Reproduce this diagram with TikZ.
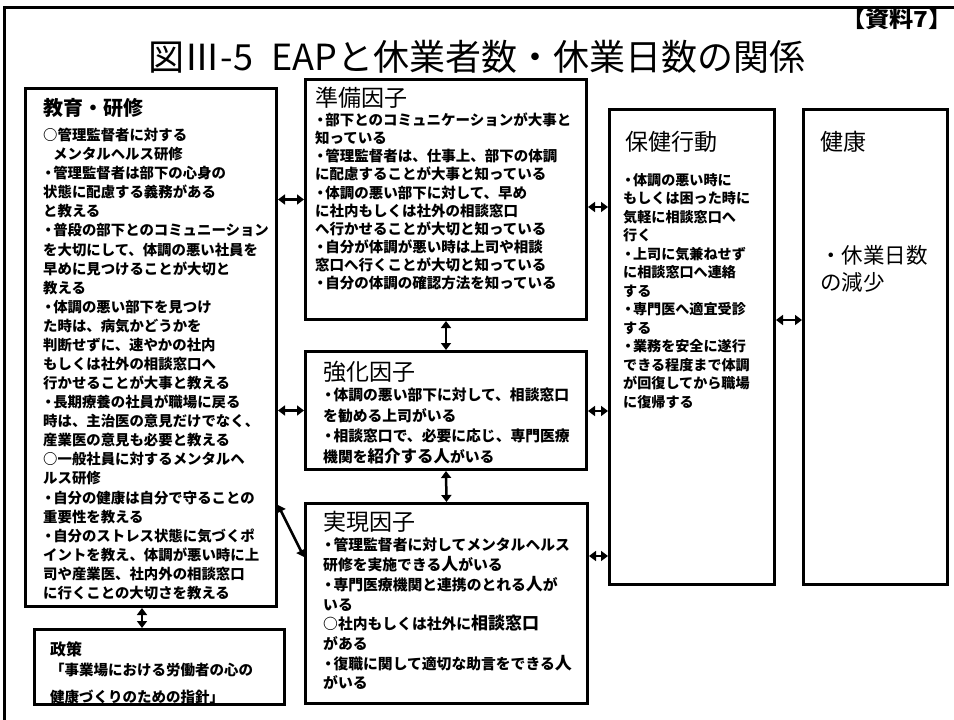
\documentclass[tikz,border=0pt]{standalone}
\usepackage{fontspec}
\usepackage{graphicx}
\setmainfont{Noto Sans CJK JP}
\usetikzlibrary{arrows.meta}
\newcommand\lgch[1]{{\fontsize{17}{19.7}\selectfont #1}}
\newcommand\dt{\makebox[0.7em]{・}}
\tikzset{
  box/.style={draw, line width=3pt, inner sep=0pt, anchor=north west},
  link/.style={line width=2.5pt, {Triangle[length=7pt,width=10pt]}-{Triangle[length=7pt,width=10pt]}},
  head/.style={anchor=west, inner sep=0pt, font=\fontsize{23}{23}\selectfont},
  body/.style={anchor=west, inner sep=0pt, align=left},
}
\begin{document}
\begin{tikzpicture}[x=1pt,y=-1pt]
\useasboundingbox (0,0) rectangle (954,720);
% outer frame (top and left)
\draw[line width=3pt] (4,720) -- (4,7) -- (954,7);
% title
\node[anchor=east, inner sep=0pt, font=\bfseries\fontsize{22}{22}\selectfont] (ref) at (953,19) {\scalebox{1.1}[1]{【資料7】}};
\node[inner sep=0pt, font=\fontsize{36}{36}\selectfont] (title) at (477,57) {図Ⅲ-5\hspace{18pt}EAPと休業者数・休業日数の関係};
% boxes
\node[box, minimum width=251pt, minimum height=518pt] (L) at (24,87) {};
\node[box, minimum width=250pt, minimum height=75pt] (P) at (33,628) {};
\node[box, minimum width=281pt, minimum height=240pt] (J) at (304,78) {};
\node[box, minimum width=281pt, minimum height=118pt] (K) at (304,350) {};
\node[box, minimum width=282pt, minimum height=200pt] (G) at (304,502) {};
\node[box, minimum width=165pt, minimum height=475pt] (H) at (608,108) {};
\node[box, minimum width=144pt, minimum height=475pt] (E) at (802,108) {};
% texts: education
\node[anchor=west, inner sep=0pt, font=\bfseries\fontsize{20}{20}\selectfont] (Lt) at (43,108) {教育・研修};
\node[body, font=\bfseries\fontsize{14.4}{19.08}\selectfont] (Lb) at (43,364) {%
○管理監督者に対する\\
\hspace*{10pt}メンタルヘルス研修\\
\dt 管理監督者は部下の心身の\\
状態に配慮する義務がある\\
と教える\\
\dt 普段の部下とのコミュニーション\\
を大切にして、体調の悪い社員を\\
早めに見つけることが大切と\\
教える\\
\dt 体調の悪い部下を見つけ\\
た時は、病気かどうかを\\
判断せずに、速やかの社内\\
もしくは社外の相談窓口へ\\
行かせることが大事と教える\\
\dt 長期療養の社員が職場に戻る\\
時は、主治医の意見だけでなく、\\
産業医の意見も必要と教える\\
○一般社員に対するメンタルヘ\\
ルス研修\\
\dt 自分の健康は自分で守ることの\\
重要性を教える\\
\dt 自分のストレス状態に気づくポ\\
イントを教え、体調が悪い時に上\\
司や産業医、社内外の相談窓口\\
に行くことの大切さを教える};
% policy
\node[body, font=\bfseries\fontsize{14.5}{20}\selectfont] (Pb) at (50,673) {%
{\fontsize{16}{20}\selectfont 政策}\\
「事業場における労働者の心の\\[7pt]
健康づくりのための指針」};
% preparing factors
\node[head] (Jt) at (315,98) {準備因子};
\node[body, font=\bfseries\fontsize{14.5}{18.1}\selectfont] (Jb) at (315,201.5) {%
\dt 部下とのコミュニケーションが大事と\\
知っている\\
\dt 管理監督者は、仕事上、部下の体調\\
に配慮することが大事と知っている\\
\dt 体調の悪い部下に対して、早め\\
に社内もしくは社外の相談窓口\\
へ行かせることが大切と知っている\\
\dt 自分が体調が悪い時は上司や相談\\
窓口へ行くことが大切と知っている\\
\dt 自分の体調の確認方法を知っている};
% reinforcing factors
\node[head] (Kt) at (323,372) {強化因子};
\node[body, font=\bfseries\fontsize{14.8}{20.7}\selectfont] (Kb) at (323,426) {%
\dt 体調の悪い部下に対して、相談窓口\\
を勧める上司がいる\\
\dt 相談窓口で、必要に応じ、専門医療\\
機関を{\fontsize{16.5}{20.7}\selectfont 紹介する人}がいる};
% enabling factors
\node[head] (Gt) at (323,522) {実現因子};
\node[body, font=\bfseries\fontsize{14.8}{19.7}\selectfont] (Gb) at (323,614) {%
\dt 管理監督者に対してメンタルヘルス\\
研修を実施できる\lgch{人}がいる\\
\dt 専門医療機関と連携のとれる\lgch{人}が\\
いる\\
○社内もしくは社外に\lgch{相談窓口}\\
がある\\
\dt 復職に関して適切な助言をできる\lgch{人}\\
がいる};
% health behaviour
\node[head] (Ht) at (625,142) {保健行動};
\node[body, font=\bfseries\fontsize{14.1}{18.5}\selectfont] (Hb) at (623,291) {%
\dt 体調の悪い時に\\
もしくは困った時に\\
気軽に相談窓口へ\\
行く\\
\dt 上司に気兼ねせず\\
に相談窓口へ連絡\\
する\\
\dt 専門医へ適宜受診\\
する\\
\dt 業務を安全に遂行\\
できる程度まで体調\\
が回復してから職場\\
に復帰する};
% health
\node[head] (Et) at (820,142) {健康};
\node[body, font=\fontsize{21.5}{27}\selectfont] (Eb) at (820,268.5) {%
・休業日数\\
の減少};
% connectors
\draw[link] (L.east |- J.west) -- (J.west);
\draw[link] (L.east |- K.west) -- (K.west);
\draw[link] (L.east |- 0,505) -- (G.west |- 0,557);
\draw[link] (L.south -| 142,0) -- (P.north -| 142,0);
\draw[link] (J.south) -- (K.north);
\draw[link] (K.south) -- (G.north);
\draw[link] (J.east |- 0,207) -- (H.west |- 0,207);
\draw[link] (K.east |- 0,411) -- (H.west |- 0,411);
\draw[link] (G.east |- 0,556) -- (H.west |- 0,556);
\draw[link] (H.east |- 0,320) -- (E.west |- 0,320);
\end{tikzpicture}
\end{document}
